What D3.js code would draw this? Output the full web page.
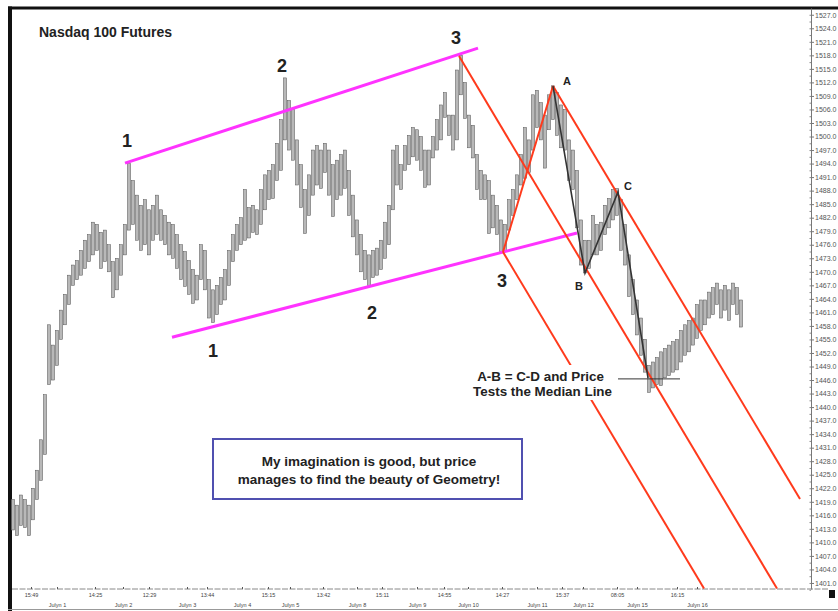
<!DOCTYPE html>
<html>
<head>
<meta charset="utf-8">
<script src="https://cdn.jsdelivr.net/npm/d3@7/dist/d3.min.js"></script>
<style>
body { margin: 0; background: #fff; }
svg { display: block; font-family: "Liberation Sans", Arial, sans-serif; }
</style>
</head>
<body>
<svg id="chart" width="838" height="611"></svg>
<script>
// price bars (high / low), one per slot
var highs = [1419.5,1418.25,1420.5,1419.5,1418.25,1422,1426,1432.75,1442.75,1458.25,
  1453.75,1457,1461.5,1465,1469.25,1471.5,1472.5,1474.75,1477,1478.25,
  1481,1480.5,1478.75,1479.25,1476,1472.25,1473,1476,1480.5,1494,
  1490.25,1487,1484.75,1486,1483.75,1484.75,1487,1483.75,1482.5,1481,
  1480.5,1478.25,1476,1474.5,1472.5,1470.5,1469.25,1476,1474.75,1468.25,
  1466,1467,1468.75,1470.5,1474.75,1478.25,1480.5,1482,1488.25,1484.25,
  1484.75,1483.75,1488.25,1491.5,1492.5,1493.75,1498.5,1503.75,1513,1508,
  1506,1499.25,1493.75,1488.25,1491.5,1497,1498,1497,1498.5,1497,
  1493.75,1494.75,1496,1497,1492.5,1487,1481.5,1478.25,1474.75,1473.75,
  1474.75,1475.25,1477,1481,1484.75,1497,1498,1493.75,1498,1500.25,
  1502,1501.5,1500,1497,1497,1500,1503.75,1507,1509.75,1504.75,
  1504.75,1514.75,1518,1512,1504.75,1502.5,1496,1492.5,1491.5,1490.25,
  1487,1484.75,1481.5,1480.5,1486,1488.25,1491.5,1496,1502,1499.25,
  1509.25,1510.25,1507.5,1504.75,1509.25,1511.25,1509.75,1507,1506,1499.25,
  1497,1492.5,1481.5,1477,1477,1482.5,1480.5,1481,1484.75,1486.25,
  1488.25,1488.5,1486,1480.5,1473.75,1468.25,1463.75,1459.75,1455,1449.25,
  1450,1451,1452.25,1453,1453.75,1454.5,1455,1457,1458.25,1459.25,
  1459.75,1462.75,1463.75,1463.75,1465.5,1466.5,1467.5,1466,1467,1466,
  1467.5,1466.5,1463.75];
var lows = [1412.75,1411.5,1413.75,1413.25,1411.5,1415,1419.5,1423.75,1429.5,1445,
  1446,1449.25,1455,1458.25,1462.75,1467,1468.25,1469.25,1470.75,1472.25,
  1473.75,1474.75,1470.75,1472.25,1470,1464.25,1466,1469.25,1473.75,1479.25,
  1480.5,1477,1474.75,1476,1473.75,1477,1478.25,1477,1476,1473.75,
  1473,1470.75,1468.25,1466.75,1465,1463,1463.75,1468.25,1466,1459.75,
  1458.75,1460.5,1462.75,1463.75,1467,1472.25,1474.75,1476,1477,1477.5,
  1478.75,1478.25,1480.5,1483.75,1486,1486.25,1490.25,1492.5,1499.25,1497,
  1494.75,1489.25,1484.25,1478.5,1482.5,1487,1489.25,1488.5,1492,1487,
  1482.25,1486,1487,1488.5,1482.5,1477.75,1473.75,1470,1468.25,1467,
  1468.75,1469.25,1470.5,1473,1476,1483.75,1489.25,1488.25,1492.5,1493.75,
  1495.5,1494.75,1492.5,1488.75,1489.25,1495.25,1497,1499.25,1504.25,1500.25,
  1497,1499.25,1509.25,1504,1497.5,1495.25,1488.25,1486,1486,1478.5,
  1479.75,1478.25,1474.5,1474.5,1479.25,1482.5,1486,1489.25,1490.75,1492,
  1497,1502,1499.25,1493,1501.5,1503.75,1500.25,1497.5,1497,1490.25,
  1488.25,1479.75,1471.5,1469.75,1470.75,1473.75,1473.75,1474.75,1478.25,1479.75,
  1481.5,1482.5,1474.75,1471.5,1464.5,1460.5,1456,1451.5,1447.75,1443.25,
  1444.25,1445,1444.75,1446.5,1447,1447.75,1448.25,1450,1451.5,1452.25,
  1453.75,1455.25,1457,1458.25,1459.75,1460.5,1462.75,1459.75,1461.5,1459.25,
  1462.75,1460.5,1457.75];

// axis ticks (bar slot for x, price for y)
var priceTicks = d3.range(1401, 1528, 3);
var timeTicks = [4.5, 20.5, 34, 48.5, 63.75, 77.5, 92.25, 107.75, 122.25, 137.25, 151, 166];
var timeLabels = ["15:49", "14:25", "12:29", "13:44", "15:15", "13:42", "15:11", "14:55", "14:27", "15:37", "08:05", "16:15"];
var dateTicks = [11, 27.5, 43.5, 57.25, 69.25, 86, 101, 113.75, 131, 142.5, 156, 171];
var dateLabels = ["Julyn 1", "Julyn 2", "Julyn 3", "Julyn 4", "Julyn 5", "Julyn 8", "Julyn 9", "Julyn 10", "Julyn 11", "Julyn 12", "Julyn 15", "Julyn 16"];

// drawn lines: [slot, price] end points
var channelTop = [[28, 1494.1], [116.25, 1519.6]];
var channelBottom = [[39.75, 1455.5], [141, 1478.6]];
var forkMedian = [[111.5, 1517.85], [191, 1399.75]];
var forkLower = [[122.5, 1474.4], [172.75, 1399.75]];
var forkUpper = [[135, 1511.2], [196.75, 1419.6]];
var legThreeA = [[122.5, 1474.4], [135, 1511.2]];
var abcd = [[135, 1511.2], [143, 1469.7], [151.25, 1487.7], [158.75, 1446.5]];
var dLevel = [[151.25, 1446.25], [166.75, 1446.25]];

var waveText = ["1", "2", "3", "1", "2", "3"];
var waveAt = [[28.5, 1497.7], [67.25, 1514.3], [110.75, 1520.5], [50, 1451.1], [89.75, 1459.5], [122.25, 1466.6]];
var pointText = ["A", "B", "C"];
var pointAt = [[138.5, 1511.4], [141.5, 1466], [153.75, 1488.1]];

var svg = d3.select("#chart");

var x = d3.scaleLinear().domain([0, 199.5]).range([13, 811]);
var y = d3.scaleLinear().domain([1399.66, 1528.5]).range([589, 8]);

var line = d3.line().x(function(d){ return x(d[0]); }).y(function(d){ return y(d[1]); });

// frame
svg.append("rect").attr("x", 8).attr("y", 6.5).attr("width", 830).attr("height", 3).attr("fill", "#111");
svg.append("rect").attr("x", 8).attr("y", 6.5).attr("width", 4).attr("height", 604.5).attr("fill", "#111");
svg.append("line").attr("x1", 8).attr("x2", 838).attr("y1", 609.5).attr("y2", 609.5)
  .attr("stroke", "#999").attr("stroke-width", 1);
svg.append("rect").attr("x", 829).attr("y", 590).attr("width", 6).attr("height", 8).attr("fill", "#111");

// y axis on the right
var yAxis = svg.append("g")
  .attr("transform", "translate(811,0)")
  .call(d3.axisRight(y).tickValues(priceTicks).tickSize(3).tickSizeOuter(0).tickPadding(1)
    .tickFormat(d3.format(".1f")));
yAxis.select(".domain").attr("stroke", "#777");
yAxis.selectAll(".tick line").attr("stroke", "#777");
yAxis.selectAll("text").attr("font-size", 7).attr("fill", "#555");
svg.append("g")
  .attr("transform", "translate(811,0)")
  .call(d3.axisLeft(y).tickValues(d3.range(1399.5, 1528, 1.5)).tickSize(1.5).tickSizeOuter(0).tickFormat(""))
  .call(function(g){ g.select(".domain").remove(); g.selectAll("line").attr("stroke", "#888"); });

// x axis: line, small marks, two label rows
svg.append("line").attr("x1", 12).attr("x2", 829).attr("y1", 589).attr("y2", 589)
  .attr("stroke", "#888").attr("stroke-width", 1).attr("stroke-dasharray", "6,1.5");
var tAxis = svg.append("g")
  .attr("transform", "translate(0,589)")
  .call(d3.axisBottom(x).tickValues(timeTicks).tickSize(-2).tickPadding(4.3)
    .tickFormat(function(d, i){ return timeLabels[i]; }));
tAxis.select(".domain").remove();
tAxis.selectAll("line").attr("stroke", "#555");
tAxis.selectAll("text").attr("font-size", 5.5).attr("fill", "#444");
var dAxis = svg.append("g")
  .attr("transform", "translate(0,589)")
  .call(d3.axisBottom(x).tickValues(dateTicks).tickSize(-2).tickPadding(14)
    .tickFormat(function(d, i){ return dateLabels[i]; }));
dAxis.select(".domain").remove();
dAxis.selectAll("line").attr("stroke", "#555");
dAxis.selectAll("text").attr("font-size", 5.5).attr("fill", "#444");

// price bars
svg.append("g").selectAll("rect")
  .data(highs)
  .join("rect")
  .attr("x", function(d, i){ return x(i) - 1.6; })
  .attr("y", function(d){ return y(d); })
  .attr("width", 3.2)
  .attr("height", function(d, i){ return y(lows[i]) - y(d); })
  .attr("fill", "#b8b8b8")
  .attr("stroke", "#555")
  .attr("stroke-width", 0.5);

// trend channel
[channelTop, channelBottom].forEach(function(pts){
  svg.append("path").attr("d", line(pts)).attr("fill", "none")
    .attr("stroke", "#ff33ff").attr("stroke-width", 3);
});

// pitchfork
[forkMedian, forkLower, forkUpper, legThreeA].forEach(function(pts){
  svg.append("path").attr("d", line(pts)).attr("fill", "none")
    .attr("stroke", "#ff3a1c").attr("stroke-width", 2);
});

// A-B-C-D swing
svg.append("path").attr("d", line(abcd)).attr("fill", "none")
  .attr("stroke", "#333").attr("stroke-width", 1.6);
svg.append("path").attr("d", line(dLevel)).attr("fill", "none")
  .attr("stroke", "#333").attr("stroke-width", 1);

// wave numbers and points
svg.append("g").selectAll("text")
  .data(waveText)
  .join("text")
  .attr("x", function(d, i){ return x(waveAt[i][0]); })
  .attr("y", function(d, i){ return y(waveAt[i][1]); })
  .attr("text-anchor", "middle")
  .attr("font-size", 18).attr("font-weight", "bold").attr("fill", "#222")
  .text(function(d){ return d; });
svg.append("g").selectAll("text")
  .data(pointText)
  .join("text")
  .attr("x", function(d, i){ return x(pointAt[i][0]); })
  .attr("y", function(d, i){ return y(pointAt[i][1]); })
  .attr("text-anchor", "middle")
  .attr("font-size", 11).attr("font-weight", "bold").attr("fill", "#222")
  .text(function(d){ return d; });

// title
svg.append("text").attr("x", 39).attr("y", 37)
  .attr("font-size", 14).attr("font-weight", "bold").attr("fill", "#222")
  .text("Nasdaq 100 Futures");

// note on the median line test
svg.append("rect").attr("x", 474).attr("y", 365).attr("width", 141).attr("height", 35).attr("fill", "#fff");
svg.append("text").attr("x", 604).attr("y", 381).attr("text-anchor", "end")
  .attr("font-size", 13.4).attr("font-weight", "bold").attr("fill", "#222")
  .text("A-B = C-D and Price");
svg.append("text").attr("x", 612).attr("y", 396).attr("text-anchor", "end")
  .attr("font-size", 13.4).attr("font-weight", "bold").attr("fill", "#222")
  .text("Tests the Median Line");

// boxed comment
svg.append("rect").attr("x", 213).attr("y", 439).attr("width", 309).attr("height", 60)
  .attr("fill", "#fff").attr("stroke", "#5050b0").attr("stroke-width", 2);
svg.append("text").attr("x", 369).attr("y", 466).attr("text-anchor", "middle")
  .attr("font-size", 13.5).attr("font-weight", "bold").attr("fill", "#222")
  .text("My imagination is good, but price");
svg.append("text").attr("x", 369).attr("y", 484).attr("text-anchor", "middle")
  .attr("font-size", 13.5).attr("font-weight", "bold").attr("fill", "#222")
  .text("manages to find the beauty of Geometry!");
</script>
</body>
</html>
